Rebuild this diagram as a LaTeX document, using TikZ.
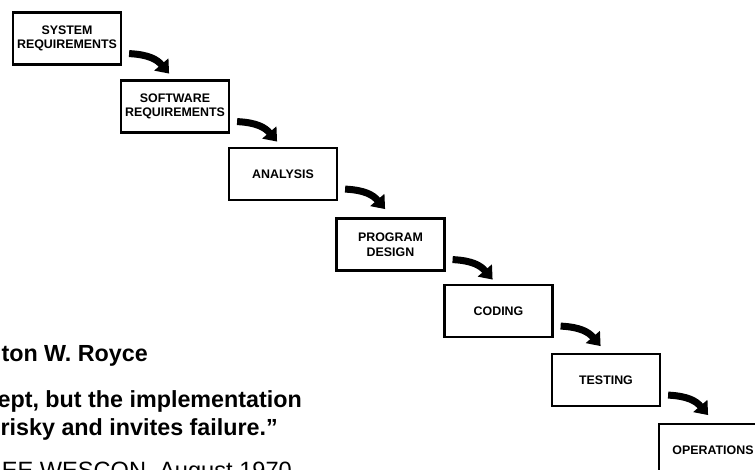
\documentclass[tikz,border=0pt]{standalone}
\usepackage{fontspec}
\setmainfont{Liberation Sans}
\usetikzlibrary{arrows.meta}
\tikzset{
  phase/.style={draw=black, line width=2.2pt, minimum width=108pt, minimum height=52pt,
    inner sep=0pt, align=center, font=\bfseries\fontsize{12.4}{14.5}\selectfont},
  flowarrow/.style={line width=7pt, -{Triangle[length=12pt,width=18pt]}},
  quote/.style={anchor=base east, inner sep=0pt, font=\bfseries\fontsize{23.3}{28}\selectfont},
  plain/.style={anchor=base east, inner sep=0pt, font=\fontsize{23.6}{28}\selectfont}
}
\begin{document}
\begin{tikzpicture}[x=1pt,y=-1pt]
\useasboundingbox (0,0) rectangle (755,470);
\clip (0,0) rectangle (755,470);
\node[phase] (b1) at (67,38.5) {SYSTEM\\REQUIREMENTS};
\node[phase] (b2) at (175,106.5) {SOFTWARE\\REQUIREMENTS};
\node[phase] (b3) at (283,174) {ANALYSIS};
\node[phase] (b4) at (390.5,244.5) {PROGRAM\\DESIGN};
\node[phase] (b5) at (498.5,311) {CODING};
\node[phase] (b6) at (606,380) {TESTING};
\node[phase] (b7) at (713,450) {OPERATIONS};
\foreach \a/\b in {b1/b2,b2/b3,b3/b4,b4/b5,b5/b6,b6/b7}{
  \draw[flowarrow] ([shift={(7,-12)}]\a.south east) .. controls +(20,1) and +(-12,-14) .. ([shift={(47,8)}]\a.south east);
}
\node[quote] (t1) at (148,361) {ton W. Royce};
\node[quote] (t2) at (302,407) {ept, but the implementation};
\node[quote] (t3) at (278,435) {risky and invites failure.”};
\node[plain] (t4) at (292,478.5) {EE WESCON, August 1970};
\end{tikzpicture}
\end{document}
